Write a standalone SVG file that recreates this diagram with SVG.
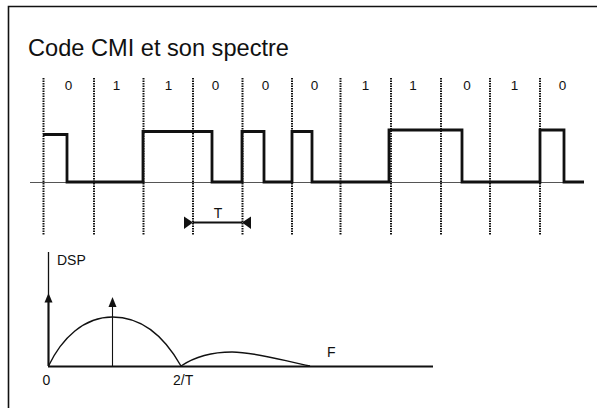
<svg xmlns="http://www.w3.org/2000/svg" width="597" height="408" viewBox="0 0 597 408">
  <style>
    text { font-family: "Liberation Sans", Arial, sans-serif; fill: #111; }
    .title { font-size: 23.6px; }
    .bit { font-size: 13.5px; text-anchor: middle; }
    .lbl { font-size: 14px; }
    .grid { stroke: #111; stroke-width: 2; stroke-dasharray: 1.5 1; fill: none; }
    .sig { stroke: #111; stroke-width: 2.8; fill: none; stroke-linejoin: miter; }
    .thin { stroke: #555; stroke-width: 1; fill: none; }
    .axis { stroke: #111; fill: none; }
    .head { fill: #111; }
  </style>

  <rect width="597" height="408" fill="#fff"/>
  <!-- frame -->
  <path d="M8.5,408 V6.5 H597" fill="none" stroke="#111" stroke-width="1.6"/>

  <text class="title" x="28" y="56">Code CMI et son spectre</text>

  <!-- bit clock boundaries -->
  <g id="grid">
    <line class="grid" x1="43.5" y1="78" x2="43.5" y2="235"/>
    <line class="grid" x1="94" y1="78" x2="94" y2="235"/>
    <line class="grid" x1="143.5" y1="78" x2="143.5" y2="235"/>
    <line class="grid" x1="193" y1="78" x2="193" y2="235"/>
    <line class="grid" x1="242.5" y1="78" x2="242.5" y2="235"/>
    <line class="grid" x1="292" y1="78" x2="292" y2="235"/>
    <line class="grid" x1="340.5" y1="78" x2="340.5" y2="235"/>
    <line class="grid" x1="391" y1="78" x2="391" y2="235"/>
    <line class="grid" x1="441" y1="78" x2="441" y2="235"/>
    <line class="grid" x1="490" y1="78" x2="490" y2="235"/>
    <line class="grid" x1="540" y1="78" x2="540" y2="235"/>
  </g>

  <!-- bit values -->
  <g id="bits">
    <text class="bit" x="68.5" y="90">0</text>
    <text class="bit" x="116.5" y="90">1</text>
    <text class="bit" x="168.5" y="90">1</text>
    <text class="bit" x="215.5" y="90">0</text>
    <text class="bit" x="265.5" y="90">0</text>
    <text class="bit" x="314.5" y="90">0</text>
    <text class="bit" x="365.5" y="90">1</text>
    <text class="bit" x="413" y="90">1</text>
    <text class="bit" x="467" y="90">0</text>
    <text class="bit" x="514.5" y="90">1</text>
    <text class="bit" x="562.5" y="90">0</text>
  </g>

  <!-- CMI waveform -->
  <g id="waveform">
    <line class="thin" x1="30" y1="182.5" x2="584" y2="182.5"/>
    <path class="sig" d="M43,134.5 H67 V182 H143 V131.5 H212 V182 H242 V131.5 H264 V182 H292 V131.5 H312 V182 H389 V130 H462 V182 H540 V130 H564 V182 H584"/>
  </g>

  <!-- bit period -->
  <g id="period">
    <line x1="193" y1="222.5" x2="242" y2="222.5" stroke="#111" stroke-width="2"/>
    <polygon class="head" points="184,216.5 184,229 193,222.5"/>
    <polygon class="head" points="251,216.5 251,229 242,222.5"/>
    <text class="lbl" x="218" y="218" text-anchor="middle">T</text>
  </g>

  <!-- spectrum -->
  <g id="spectrum">
    <line class="axis" x1="48.5" y1="252" x2="48.5" y2="366" stroke-width="1.3"/>
    <line class="axis" x1="48.5" y1="366" x2="48.5" y2="300" stroke-width="2"/>
    <polygon class="head" points="48.5,293 44.5,302.5 52.5,302.5"/>
    <line class="axis" x1="112.5" y1="366" x2="112.5" y2="305" stroke-width="1.1"/>
    <polygon class="head" points="112.5,297 108.5,307 116.5,307"/>
    <line class="axis" x1="48" y1="366.5" x2="433" y2="366.5" stroke-width="2"/>
    <path class="axis" stroke-width="1.4" d="M48.5,366 C62,338 84,317 112.5,317 C142,317 164,336 181,366 C196,356 214,352 232,352 C256,352 284,361 310,366"/>
    <text class="lbl" x="57" y="265">DSP</text>
    <text class="lbl" x="42.5" y="385">0</text>
    <text class="lbl" x="173" y="385">2/T</text>
    <text class="lbl" x="327" y="357">F</text>
  </g>
</svg>
